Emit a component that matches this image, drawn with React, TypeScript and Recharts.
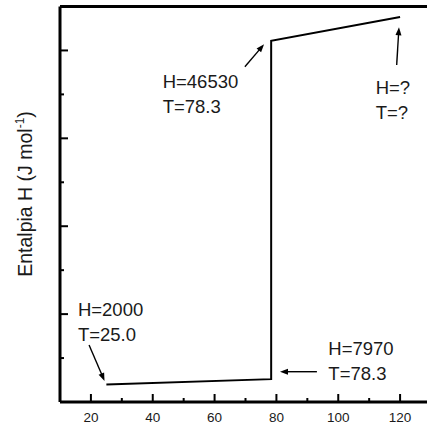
import React from 'react';
import { LineChart, Line, XAxis, YAxis, ReferenceLine, ReferenceDot } from 'recharts';

// Series (schematic enthalpy curve)
const temperatures = [25, 78.3, 78.3, 120];
const enthalpies = [2000, 2600, 41100, 43800];

// Axis ticks
const xMajorTicks = [20, 40, 60, 80, 100, 120];
const xTicks = [20, 30, 40, 50, 60, 70, 80, 90, 100, 110, 120];
const yTicks = [0, 5000, 10000, 15000, 20000, 25000, 30000, 35000, 40000, 45000];
const yMajorTicks = [10000, 20000, 30000, 40000];

// Annotations: text anchor and arrow (from -> to), in data coordinates
const annotationLines = [
  ['H=2000', 'T=25.0'],
  ['H=7970', 'T=78.3'],
  ['H=46530', 'T=78.3'],
  ['H=?', 'T=?'],
];
const annotationTextAt = [
  [15.8, 9785],
  [96.8, 5404],
  [43.2, 35692],
  [112.1, 35044],
];
const arrowFrom = [
  [19.4, 6485],
  [93.1, 3447],
  [69.8, 38150],
  [118.9, 38343],
];
const arrowTo = [
  [24.4, 2389],
  [81.15, 3447],
  [76.0, 40699],
  [119.64, 42633],
];

const data = temperatures.map((t, i) => ({ T: t, H: enthalpies[i] }));

const FONT = '"Liberation Sans", Arial, sans-serif';
const INK = '#1a1a1a';

const XTick = (props: any) => {
  const { x, y, payload } = props;
  const major = xMajorTicks.includes(payload.value);
  return (
    <g>
      <line x1={x} y1={y} x2={x} y2={y - (major ? 8 : 4)} stroke="#000" strokeWidth={2} />
      {major && (
        <text x={x} y={y + 19.5} textAnchor="middle" fontFamily={FONT} fontSize={13.5} fill={INK}>
          {payload.value}
        </text>
      )}
    </g>
  );
};

const YTick = (props: any) => {
  const { x, y, payload } = props;
  if (payload.value === 0 || payload.value === 45000) return <g />;
  const major = yMajorTicks.includes(payload.value);
  return <line x1={x} y1={y} x2={x + (major ? 8 : 4)} y2={y} stroke="#000" strokeWidth={2} />;
};

const Arrow = (props: any) => {
  const { x1, y1, x2, y2 } = props;
  const dx = x2 - x1;
  const dy = y2 - y1;
  const len = Math.sqrt(dx * dx + dy * dy) || 1;
  const ux = dx / len;
  const uy = dy / len;
  const hl = 8;
  const hw = 3;
  const bx = x2 - ux * hl;
  const by = y2 - uy * hl;
  const pts = `${x2},${y2} ${bx - uy * hw},${by + ux * hw} ${bx + uy * hw},${by - ux * hw}`;
  return (
    <g>
      <line x1={x1} y1={y1} x2={bx + ux * 1} y2={by + uy * 1} stroke="#000" strokeWidth={1.4} />
      <polygon points={pts} fill="#000" />
    </g>
  );
};

const makeTextShape = (lines: string[]) => (props: any) => {
  const { cx, cy } = props;
  return (
    <text x={cx} y={cy} fontFamily={FONT} fontSize={18.5} fill={INK}>
      {lines.map((ln, i) => (
        <tspan key={i} x={cx} dy={i === 0 ? 0 : 25}>
          {ln}
        </tspan>
      ))}
    </text>
  );
};

const YLabel = () => (
  <text
    x={32}
    y={194}
    transform="rotate(-90 32 194)"
    textAnchor="middle"
    fontFamily={FONT}
    fontSize={19.5}
    fill={INK}
  >
    Entalpia H (J mol
    <tspan dy={-8} fontSize={12}>-1</tspan>
    <tspan dy={8}>)</tspan>
  </text>
);

export default function App() {
  return (
    <div style={{ position: 'absolute', left: 0, top: 0, width: 427, height: 427, overflow: 'hidden', background: '#fff' }}>
      <LineChart width={440} height={427} data={data} margin={{ top: 6.5, right: 9, bottom: 0, left: 0 }}>
        <XAxis
          dataKey="T"
          type="number"
          domain={[10, 130]}
          ticks={xTicks}
          interval={0}
          tickSize={0}
          tickMargin={0}
          tick={<XTick />}
          height={25}
          axisLine={{ stroke: '#000', strokeWidth: 3 }}
          allowDataOverflow
        />
        <YAxis
          type="number"
          domain={[0, 45000]}
          ticks={yTicks}
          interval={0}
          tickSize={0}
          tickMargin={0}
          tick={<YTick />}
          width={60}
          axisLine={{ stroke: '#000', strokeWidth: 3 }}
          label={{ content: () => <YLabel /> }}
          allowDataOverflow
        />
        <ReferenceLine y={45000} stroke="#000" strokeWidth={3} />
        <Line
          type="linear"
          dataKey="H"
          stroke="#000"
          strokeWidth={2}
          dot={false}
          isAnimationActive={false}
        />
        {annotationLines.map((lines, i) => (
          <ReferenceLine
            key={`arrow-${i}`}
            segment={[
              { x: arrowFrom[i][0], y: arrowFrom[i][1] },
              { x: arrowTo[i][0], y: arrowTo[i][1] },
            ]}
            shape={<Arrow />}
          />
        ))}
        {annotationLines.map((lines, i) => (
          <ReferenceDot
            key={`text-${i}`}
            x={annotationTextAt[i][0]}
            y={annotationTextAt[i][1]}
            r={0}
            shape={makeTextShape(lines)}
          />
        ))}
      </LineChart>
    </div>
  );
}
